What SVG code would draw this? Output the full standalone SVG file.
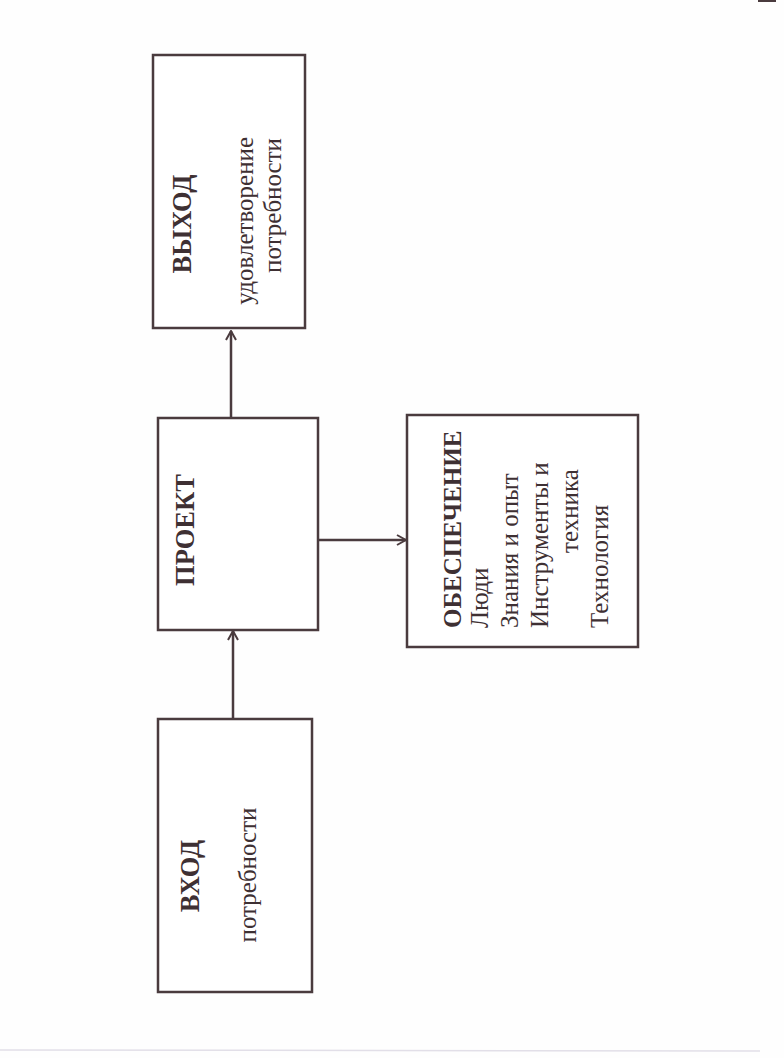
<svg xmlns="http://www.w3.org/2000/svg" width="784" height="1058" viewBox="0 0 784 1058">
<defs>
<style>
.box{fill:#fff;stroke:#4a3b3e;stroke-width:2.5}
.con{fill:none;stroke:#4a3b3e;stroke-width:2.5}
.t{font-family:"Liberation Serif","Times New Roman",serif;fill:#3e3033;font-size:25px}
.b{font-weight:bold;font-size:26.5px}
</style>
<marker id="arr" viewBox="0 0 12 12" refX="11" refY="6" markerWidth="12" markerHeight="12" markerUnits="userSpaceOnUse" orient="auto">
<path d="M2,1 L11,6 L2,11" fill="none" stroke="#4a3b3e" stroke-width="2"/>
</marker>
</defs>
<rect width="784" height="1058" fill="#fefefe"/>
<line x1="0" y1="1050" x2="760" y2="1051" stroke="#e2dfe8" stroke-width="1.5"/>
<rect x="758" y="0" width="18" height="2" fill="#4a3b3e"/>
<g id="connectors">
<line class="con" x1="231" y1="418" x2="231" y2="331" marker-end="url(#arr)"/>
<line class="con" x1="233" y1="719" x2="233" y2="631" marker-end="url(#arr)"/>
<line class="con" x1="318" y1="540" x2="406" y2="540" marker-end="url(#arr)"/>
</g>
<g id="vyhod">
<rect class="box" x="153" y="55" width="152" height="273"/>
<text class="t b" text-anchor="middle" transform="translate(191,224) rotate(-90)">ВЫХОД</text>
<text class="t" text-anchor="end" transform="translate(253,137) rotate(-90)">удовлетворение</text>
<text class="t" text-anchor="end" transform="translate(281,138) rotate(-90)">потребности</text>
</g>
<g id="proekt">
<rect class="box" x="158" y="418" width="160" height="212"/>
<text class="t b" text-anchor="middle" transform="translate(194,530) rotate(-90)">ПРОЕКТ</text>
</g>
<g id="obespechenie">
<rect class="box" x="407" y="415" width="231" height="232"/>
<text class="t b" style="font-size:25px" transform="translate(461,628) rotate(-90)">ОБЕСПЕЧЕНИЕ</text>
<text class="t" transform="translate(488,628) rotate(-90)">Люди</text>
<text class="t" transform="translate(518,628) rotate(-90)">Знания и опыт</text>
<text class="t" transform="translate(548,628) rotate(-90)">Инструменты и</text>
<text class="t" transform="translate(578,553) rotate(-90)">техника</text>
<text class="t" transform="translate(608,628) rotate(-90)">Технология</text>
</g>
<g id="vhod">
<rect class="box" x="158" y="719" width="154" height="273"/>
<text class="t b" text-anchor="middle" transform="translate(199,876) rotate(-90)">ВХОД</text>
<text class="t" text-anchor="middle" transform="translate(256,875) rotate(-90)">потребности</text>
</g>
</svg>
